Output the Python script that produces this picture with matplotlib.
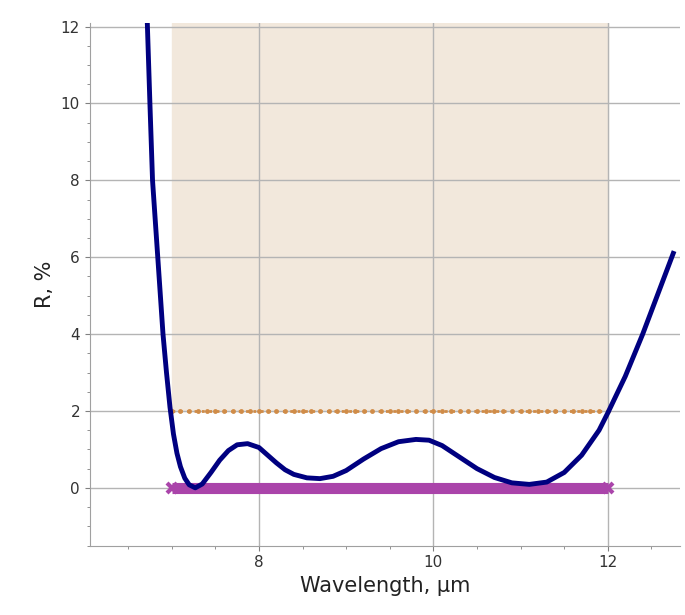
import numpy as np
import matplotlib
matplotlib.use("Agg")
import matplotlib.pyplot as plt
from matplotlib.ticker import MultipleLocator

wl = [6.72,6.75,6.78,6.81,6.84,6.87,6.9,6.94,6.98,7.02,7.06,7.1,7.15,7.2,7.27,7.35,7.45,7.55,7.65,7.75,7.87,8.0,8.1,8.2,8.3,8.4,8.55,8.7,8.85,9.0,9.2,9.4,9.6,9.8,9.95,10.1,10.3,10.5,10.7,10.9,11.1,11.3,11.5,11.7,11.9,12.0,12.2,12.4,12.6,12.75]
refl = [12.1,10.0,8.0,7.0,6.0,5.0,4.0,3.0,2.1,1.4,0.9,0.55,0.25,0.08,0.0,0.1,0.4,0.72,0.97,1.12,1.15,1.05,0.85,0.65,0.47,0.35,0.26,0.24,0.3,0.45,0.75,1.02,1.2,1.26,1.24,1.1,0.8,0.5,0.27,0.13,0.09,0.15,0.4,0.85,1.5,1.95,2.9,4.0,5.2,6.1]
band = (7.0, 12.0)
target_max = 2.0
target_min = 0.0

fig = plt.figure(figsize=(6.85, 6.15), dpi=100)
ax = fig.add_axes([0.131, 0.113, 0.862, 0.85])
ax.set_xlim(6.06, 12.83)
ax.set_ylim(-1.5, 12.1)
ax.fill_between(band, target_max, 12.1, color="#f2e8dc", zorder=0)
ax.xaxis.set_major_locator(MultipleLocator(2))
ax.xaxis.set_minor_locator(MultipleLocator(0.5))
ax.yaxis.set_major_locator(MultipleLocator(2))
ax.yaxis.set_minor_locator(MultipleLocator(0.5))
ax.grid(True, which="major", color="#b4b4b4", lw=1, zorder=1)
xs = np.linspace(band[0], band[1], 51)
ax.plot(xs, np.full_like(xs, target_max), ":", color="#d08c48", lw=2, marker="o", ms=3.5, mew=0, zorder=3)
ax.plot(band, [target_min]*2, color="#aa44aa", lw=8, solid_capstyle="butt", zorder=3)
ax.plot(band, [target_min]*2, "x", color="#aa44aa", ms=7, mew=3, zorder=3)
ax.plot(wl, refl, color="#000080", lw=3.5, zorder=4)
for s in ["top", "right"]:
    ax.spines[s].set_visible(False)
for s in ["left", "bottom"]:
    ax.spines[s].set_color("#a0a0a0")
ax.tick_params(which="both", colors="#808080", labelcolor="#333333", labelsize=11)
ax.set_xlabel("Wavelength, µm", fontsize=15, color="#222222")
ax.set_ylabel("R, %", fontsize=15, color="#222222")
fig.savefig("out.png")
